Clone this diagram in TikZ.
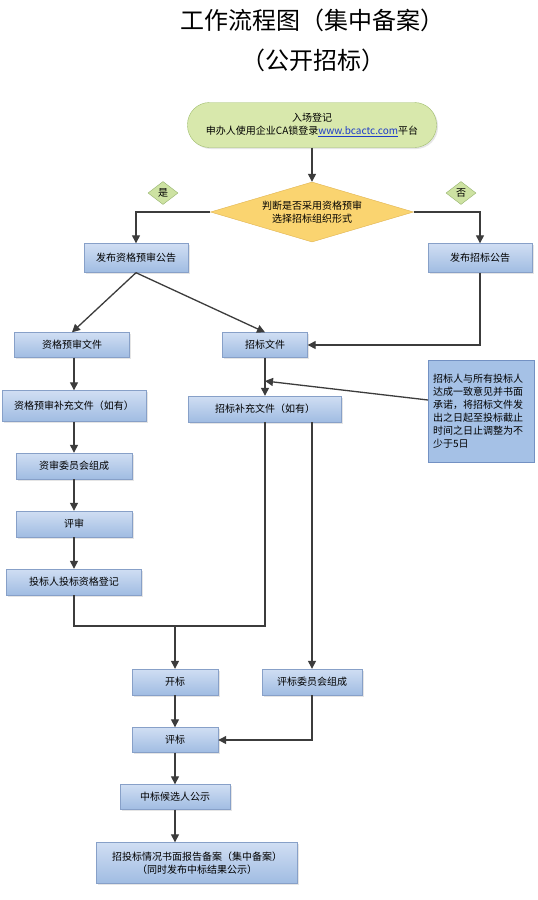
\documentclass[tikz,border=0pt]{standalone}
\usepackage{fontspec}
\setmainfont{Noto Sans CJK SC}
\usetikzlibrary{shapes.geometric,arrows.meta,shadows}
\definecolor{boxtop}{RGB}{208,222,243}
\definecolor{boxbot}{RGB}{160,188,226}
\definecolor{boxline}{RGB}{135,160,200}
\definecolor{linec}{RGB}{60,60,60}
\definecolor{startfill}{RGB}{216,232,172}
\definecolor{startline}{RGB}{160,190,110}
\definecolor{decfill}{RGB}{250,212,112}
\definecolor{decline}{RGB}{225,180,80}
\definecolor{ynfill}{RGB}{205,226,162}
\definecolor{ynline}{RGB}{150,180,110}
\definecolor{notefill}{RGB}{165,193,230}
\definecolor{noteline}{RGB}{115,145,195}
\definecolor{urlc}{RGB}{30,60,200}
\begin{document}
\begin{tikzpicture}[x=1pt,y=-1pt,
  base/.style={inner sep=0pt, font=\fontsize{10}{13}\selectfont, align=center},
  box/.style={base, draw=boxline, top color=boxtop, bottom color=boxbot,
    drop shadow={opacity=0.2, shadow xshift=1.5pt, shadow yshift=-1.5pt}},
  arr/.style={draw=linec, line width=1.3pt, -{Triangle[length=8pt,width=8pt]}},
  ln/.style={draw=linec, line width=1.3pt},
  yn/.style={base, diamond, draw=ynline, fill=ynfill, minimum width=30pt, minimum height=23pt}]
\useasboundingbox (0,0) rectangle (538,900);
\fill[white] (0,0) rectangle (538,900);

% title
\node[inner sep=0pt, font=\fontsize{24}{28}\selectfont] (t1) at (312,20) {工作流程图（集中备案）};
\node[inner sep=0pt, font=\fontsize{24}{28}\selectfont] (t2) at (313,60) {（公开招标）};

% nodes
\node[base, draw=startline, fill=startfill, rounded corners=22pt, minimum width=249pt, minimum height=45pt,
  drop shadow={opacity=0.2, shadow xshift=1.5pt, shadow yshift=-1.5pt}] (start) at (312,125)
  {入场登记\\申办人使用企业CA锁登录\textcolor{urlc}{\underline{www.bcactc.com}}平台};
\node[base, diamond, draw=decline, fill=decfill, aspect=3.4, minimum width=203pt, minimum height=60pt] (dec) at (312,212)
  {判断是否采用资格预审\\选择招标组织形式};
\node[yn] (yes) at (163,193) {是};
\node[yn] (no) at (461,193) {否};

\node[box, minimum width=104pt, minimum height=29pt] (fbzs) at (136,258) {发布资格预审公告};
\node[box, minimum width=104pt, minimum height=29pt] (fbzb) at (480,258) {发布招标公告};

\node[box, minimum width=115pt, minimum height=25pt] (zgwj) at (72,345) {资格预审文件};
\node[box, minimum width=85pt, minimum height=25pt] (zbwj) at (265,345) {招标文件};

\node[box, minimum width=144pt, minimum height=31pt] (zgbc) at (74,406) {资格预审补充文件（如有）};
\node[box, minimum width=153pt, minimum height=26pt] (zbbc) at (265,409) {招标补充文件（如有）};

\node[box, minimum width=116pt, minimum height=26pt] (zswyh) at (74,466) {资审委员会组成};
\node[box, minimum width=116pt, minimum height=26pt] (ps) at (74,524) {评审};
\node[box, minimum width=135pt, minimum height=26pt] (tbdj) at (74,582) {投标人投标资格登记};

\node[box, minimum width=86pt, minimum height=26pt] (kb) at (175,682) {开标};
\node[box, minimum width=100pt, minimum height=26pt] (pbwyh) at (312,682) {评标委员会组成};
\node[box, minimum width=86pt, minimum height=25pt] (pb) at (175,740) {评标};
\node[box, minimum width=110pt, minimum height=25pt] (zbgs) at (175,797) {中标候选人公示};
\node[box, minimum width=201pt, minimum height=41pt] (final) at (197,863)
  {招投标情况书面报告备案（集中备案）\\（同时发布中标结果公示）};

\node[base, draw=noteline, fill=notefill, minimum width=106pt, minimum height=102pt,
  text width=96pt, align=left] (note) at (481,411)
  {招标人与所有投标人\\达成一致意见并书面\\承诺，将招标文件发\\出之日起至投标截止\\时间之日止调整为不\\少于5日};

% connectors
\coordinate (hit) at (265,381);
\coordinate (nw) at (428,400);
\coordinate (j) at (175,626);

\draw[arr] (start) -- (dec);
\draw[arr] (dec.west) -| (fbzs.north);
\draw[arr] (dec.east) -| (fbzb.north);
\draw[arr] (fbzs.south) -- (zgwj.north);
\draw[arr] (fbzs.south) -- (zbwj.north);
\draw[arr] (fbzb.south) |- (zbwj.east);
\draw[arr] (zgwj.south -| zgbc.north) -- (zgbc.north);
\draw[arr] (zgbc) -- (zswyh);
\draw[arr] (zswyh) -- (ps);
\draw[arr] (ps) -- (tbdj);
\draw[arr] (zbwj) -- (zbbc);
\draw[arr] (nw) -- (hit);
\draw[ln] (tbdj.south) |- (j);
\draw[ln] (zbbc.south) |- (j);
\draw[arr] (j) -- (kb.north);
\draw[arr] (zbbc.south -| pbwyh.north) -- (pbwyh.north);
\draw[arr] (kb) -- (pb);
\draw[arr] (pbwyh.south) |- (pb.east);
\draw[arr] (pb) -- (zbgs);
\draw[arr] (zbgs.south) -- (zbgs.south |- final.north);
\end{tikzpicture}
\end{document}
